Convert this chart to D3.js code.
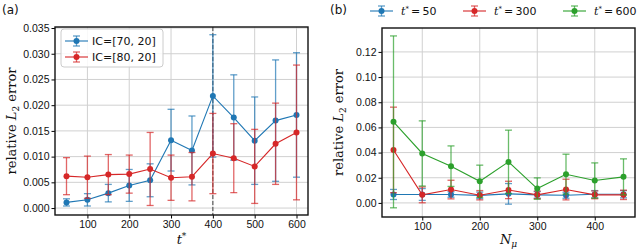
<!DOCTYPE html>
<html lang="en">
<head>
    <meta charset="UTF-8">
    <title>Relative L2 error</title>
    <script src="https://d3js.org/d3.v7.min.js"></script>
    <style>
        body { margin: 0; background: white; }
        svg { display: block; font-family: "DejaVu Sans", sans-serif; }
        .grid line { stroke: #d0d0d0; stroke-width: 1; }
        .tick text { font-size: 10.5px; fill: #111; }
        .lab { font-family: "DejaVu Serif", serif; font-size: 13px; fill: #111; }
    </style>
</head>
<body>
<script>
    // panel (a): error vs t*
    const tStar = [50, 100, 150, 200, 250, 300, 350, 400, 450, 500, 550, 600];
    const ic70 = [0.0011, 0.0016, 0.0029, 0.0044, 0.0054, 0.0132, 0.0112, 0.0218, 0.0176, 0.0131, 0.0170, 0.0181];
    const ic70Std = [0.0007, 0.0012, 0.0017, 0.0031, 0.0032, 0.0060, 0.0067, 0.0119, 0.0083, 0.0085, 0.0118, 0.0121];
    const ic80 = [0.0062, 0.0060, 0.0065, 0.0066, 0.0076, 0.0059, 0.0061, 0.0106, 0.0097, 0.0081, 0.0125, 0.0147];
    const ic80Std = [0.0036, 0.0041, 0.0039, 0.0037, 0.0071, 0.0044, 0.0047, 0.0078, 0.0067, 0.0072, 0.0079, 0.0131];
    const ticksA = [0, 0.005, 0.010, 0.015, 0.020, 0.025, 0.030, 0.035];

    // panel (b): error vs N_mu
    const nMu = [50, 100, 150, 200, 250, 300, 350, 400, 450];
    const t50 = [0.0067, 0.0067, 0.0067, 0.0060, 0.0072, 0.0064, 0.0061, 0.0069, 0.0069];
    const t50Std = [0.0040, 0.0047, 0.0022, 0.0026, 0.0082, 0.0026, 0.0024, 0.0029, 0.0029];
    const t300 = [0.0421, 0.0064, 0.0106, 0.0061, 0.0103, 0.0064, 0.0106, 0.0064, 0.0064];
    const t300Std = [0.0340, 0.0063, 0.0074, 0.0037, 0.0069, 0.0030, 0.0082, 0.0031, 0.0037];
    const t600 = [0.0644, 0.0393, 0.0292, 0.0172, 0.0326, 0.0114, 0.0228, 0.0178, 0.0207];
    const t600Std = [0.0683, 0.0259, 0.0161, 0.0128, 0.0252, 0.0085, 0.0159, 0.0140, 0.0143];
    const ticksB = [0, 0.02, 0.04, 0.06, 0.08, 0.10, 0.12];

    const blue = "#1f77b4", red = "#d62728", green = "#2ca02c";

    const svg = d3.select("body").append("svg")
        .attr("width", 640).attr("height", 249);

    function panel(opt) {
        const x = d3.scaleLinear().domain(opt.xDomain).range([opt.left, opt.right]);
        const y = d3.scaleLinear().domain(opt.yDomain).range([opt.bottom, opt.top]);
        const g = svg.append("g");

        // grid
        const grid = g.append("g").attr("class", "grid");
        grid.selectAll(".gx").data(opt.xTicks).enter().append("line")
            .attr("x1", d => x(d)).attr("x2", d => x(d))
            .attr("y1", opt.top).attr("y2", opt.bottom);
        grid.selectAll(".gy").data(opt.yTicks).enter().append("line")
            .attr("y1", d => y(d)).attr("y2", d => y(d))
            .attr("x1", opt.left).attr("x2", opt.right);

        if (opt.vline !== undefined) {
            g.append("line")
                .attr("x1", x(opt.vline)).attr("x2", x(opt.vline))
                .attr("y1", opt.top).attr("y2", opt.bottom)
                .attr("stroke", "#444").attr("stroke-width", 1)
                .attr("stroke-dasharray", "4,2");
        }

        // series
        opt.series.forEach(s => {
            const pts = opt.xs.map((v, i) => ({x: v, y: s.vals[i], e: s.std[i]}));
            const sg = g.append("g");
            sg.selectAll(".eb").data(pts).enter().append("line")
                .attr("x1", d => x(d.x)).attr("x2", d => x(d.x))
                .attr("y1", d => y(d.y - d.e)).attr("y2", d => y(d.y + d.e))
                .attr("stroke", s.color).attr("stroke-width", 1.3).attr("opacity", 0.7);
            [-1, 1].forEach(sgn => {
                sg.selectAll(".cap").data(pts).enter().append("line")
                    .attr("x1", d => x(d.x) - 3.5).attr("x2", d => x(d.x) + 3.5)
                    .attr("y1", d => y(d.y + sgn * d.e)).attr("y2", d => y(d.y + sgn * d.e))
                    .attr("stroke", s.color).attr("stroke-width", 1.3).attr("opacity", 0.7);
            });
            sg.append("path").datum(pts)
                .attr("fill", "none").attr("stroke", s.color).attr("stroke-width", 1.1)
                .attr("d", d3.line().x(d => x(d.x)).y(d => y(d.y)));
            sg.selectAll("circle").data(pts).enter().append("circle")
                .attr("cx", d => x(d.x)).attr("cy", d => y(d.y)).attr("r", 3)
                .attr("fill", s.color);
        });

        // axes
        g.append("g").attr("transform", `translate(0,${opt.bottom})`)
            .call(d3.axisBottom(x).tickValues(opt.xTicks).tickSize(3.5).tickPadding(2).tickFormat(d3.format("d")))
            .call(a => a.select(".domain").remove());
        g.append("g").attr("transform", `translate(${opt.left},0)`)
            .call(d3.axisLeft(y).tickValues(opt.yTicks).tickSize(3.5).tickPadding(2).tickFormat(d3.format(opt.yFmt)))
            .call(a => a.select(".domain").remove());

        g.append("rect")
            .attr("x", opt.left).attr("y", opt.top)
            .attr("width", opt.right - opt.left).attr("height", opt.bottom - opt.top)
            .attr("fill", "none").attr("stroke", "#111").attr("stroke-width", 1.4);

        // labels
        const yl = g.append("text").attr("class", "lab")
            .attr("transform", `translate(${opt.yLabX},${(opt.top + opt.bottom) / 2}) rotate(-90)`)
            .attr("text-anchor", "middle");
        yl.append("tspan").text("relative ");
        yl.append("tspan").attr("font-style", "italic").text("L");
        yl.append("tspan").attr("font-size", "9px").attr("dy", 3).text("2");
        yl.append("tspan").attr("dy", -3).text(" error");

        const xl = g.append("text").attr("class", "lab")
            .attr("x", (opt.left + opt.right) / 2).attr("y", 244)
            .attr("text-anchor", "middle").attr("font-style", "italic");
        xl.append("tspan").text(opt.xLab[0]);
        xl.append("tspan").attr("font-size", "9px").attr("dy", opt.xLab[2]).text(opt.xLab[1]);

        svg.append("text").attr("x", opt.tagX).attr("y", 14)
            .attr("font-size", "12px").attr("fill", "#111").text(opt.tag);
        return {x, y};
    }

    panel({
        left: 55, right: 308, top: 27, bottom: 215,
        xDomain: [22.5, 627.5], yDomain: [-0.00135, 0.0352],
        xTicks: [100, 200, 300, 400, 500, 600], yTicks: ticksA, yFmt: ".3f",
        xs: tStar, vline: 400,
        series: [
            {vals: ic70, std: ic70Std, color: blue},
            {vals: ic80, std: ic80Std, color: red}
        ],
        yLabX: 16, xLab: ["t", "*", -5], tag: "(a)", tagX: 2
    });

    panel({
        left: 382, right: 635, top: 28, bottom: 217,
        xDomain: [30, 470], yDomain: [-0.0112, 0.139],
        xTicks: [100, 200, 300, 400], yTicks: ticksB, yFmt: ".2f",
        xs: nMu,
        series: [
            {vals: t50, std: t50Std, color: blue},
            {vals: t300, std: t300Std, color: red},
            {vals: t600, std: t600Std, color: green}
        ],
        yLabX: 343, xLab: ["N", "μ", 3], tag: "(b)", tagX: 330
    });

    // legend markers
    function legendEntry(x0, yc, color) {
        const lg = svg.append("g");
        lg.append("line").attr("x1", x0).attr("x2", x0 + 23).attr("y1", yc).attr("y2", yc)
            .attr("stroke", color).attr("stroke-width", 1.1);
        lg.append("line").attr("x1", x0 + 11.5).attr("x2", x0 + 11.5).attr("y1", yc - 5).attr("y2", yc + 5)
            .attr("stroke", color).attr("stroke-width", 1.3).attr("opacity", 0.7);
        [-5, 5].forEach(dy => lg.append("line")
            .attr("x1", x0 + 8).attr("x2", x0 + 15).attr("y1", yc + dy).attr("y2", yc + dy)
            .attr("stroke", color).attr("stroke-width", 1.3).attr("opacity", 0.7));
        lg.append("circle").attr("cx", x0 + 11.5).attr("cy", yc).attr("r", 3).attr("fill", color);
    }

    // legend (a)
    svg.append("rect").attr("x", 61).attr("y", 29).attr("width", 102).attr("height", 38)
        .attr("rx", 3).attr("fill", "white").attr("fill-opacity", 0.85)
        .attr("stroke", "#ccc").attr("stroke-width", 1);
    [["IC=[70, 20]", blue, 41], ["IC=[80, 20]", red, 57]].forEach(([t, c, yc]) => {
        legendEntry(65, yc, c);
        svg.append("text").attr("x", 92).attr("y", yc + 4).attr("font-size", "11px")
            .attr("fill", "#111").text(t);
    });

    // legend (b)
    [["50", blue, 370], ["300", red, 463], ["600", green, 563]].forEach(([t, c, x0]) => {
        legendEntry(x0, 11, c);
        const tx = svg.append("text").attr("x", x0 + 31).attr("y", 15).attr("font-size", "11px").attr("fill", "#111");
        tx.append("tspan").attr("font-family", "DejaVu Serif, serif").attr("font-style", "italic").text("t");
        tx.append("tspan").attr("font-size", "7px").attr("dy", -4).text("*");
        tx.append("tspan").attr("dy", 4).text("\u2009=\u2009" + t);
    });
</script>
</body>
</html>
